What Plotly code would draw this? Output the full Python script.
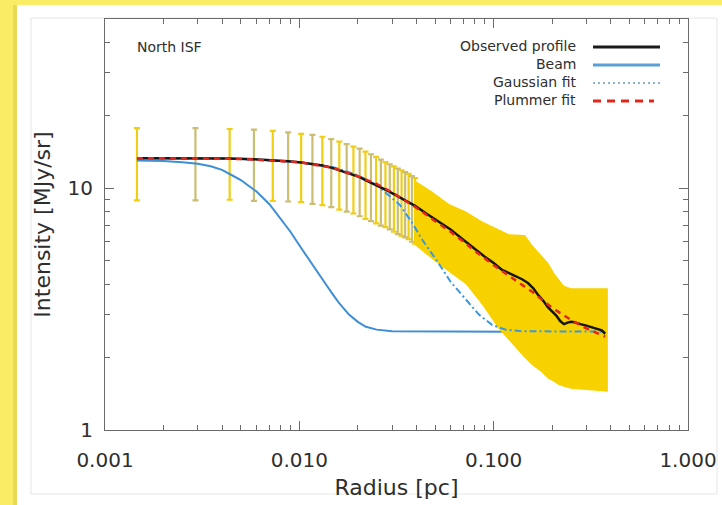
import plotly.graph_objects as go

# ---------------- data ----------------
obs_radius = [0.00146, 0.00292, 0.00438, 0.00584, 0.0073, 0.00876, 0.01022, 0.01168, 0.01314, 0.0146,
              0.01606, 0.01752, 0.01898, 0.02044, 0.0219, 0.02336, 0.02482, 0.02628, 0.02774, 0.0292,
              0.03066, 0.03212, 0.03358, 0.03504, 0.0365, 0.03796, 0.03942,
              0.045, 0.05, 0.055, 0.06, 0.07, 0.08, 0.09, 0.10, 0.11, 0.12,
              0.13, 0.14, 0.15, 0.16, 0.17, 0.18, 0.19, 0.20, 0.21, 0.22,
              0.23, 0.24, 0.25, 0.26, 0.27, 0.28, 0.30, 0.32, 0.34, 0.36, 0.375]
obs_intensity = [13.3, 13.3, 13.25, 13.15, 13.05, 12.9, 12.75, 12.6, 12.4, 12.15,
                 11.85, 11.6, 11.35, 11.1, 10.8, 10.55, 10.3, 10.05, 9.85, 9.65,
                 9.45, 9.25, 9.1, 8.95, 8.8, 8.6, 8.45,
                 7.85, 7.45, 7.1, 6.75, 6.1, 5.6, 5.2, 4.9, 4.6, 4.45,
                 4.33, 4.2, 4.05, 3.85, 3.6, 3.42, 3.22, 3.08, 2.97, 2.82,
                 2.74, 2.78, 2.8, 2.79, 2.76, 2.74, 2.70, 2.65, 2.61, 2.58, 2.5]

# individual error bars (first 27 profile points)
bar_error = [4.4, 4.4, 4.3, 4.3, 4.2, 4.1, 4.0, 4.0, 3.9, 3.8,
             3.7, 3.6, 3.5, 3.45, 3.35, 3.25, 3.15, 3.05, 2.95, 2.9,
             2.85, 2.8, 2.75, 2.7, 2.65, 2.6, 2.55]

# merged error band at larger radii
band_radius = [0.039, 0.048, 0.059, 0.072, 0.087, 0.106, 0.12, 0.145, 0.157, 0.175,
               0.191, 0.205, 0.215, 0.23, 0.25, 0.30, 0.387]
band_upper = [10.8, 9.7, 8.6, 8.0, 7.3, 6.75, 6.45, 6.4, 5.85, 5.3,
              4.9, 4.45, 4.23, 3.95, 3.85, 3.85, 3.85]
band_lower = [5.85, 5.1, 4.5, 4.0, 3.3, 2.62, 2.35, 1.98, 1.86, 1.74,
              1.63, 1.58, 1.54, 1.51, 1.48, 1.46, 1.44]

beam_radius = [0.00146, 0.002, 0.0025, 0.003, 0.0035, 0.004, 0.0045, 0.005, 0.0055, 0.006,
               0.007, 0.008, 0.009, 0.010, 0.011, 0.012, 0.013, 0.014, 0.015, 0.016,
               0.018, 0.020, 0.022, 0.025, 0.03, 0.05, 0.08, 0.12]
beam_intensity = [13.0, 12.95, 12.8, 12.6, 12.3, 11.9, 11.3, 10.8, 10.2, 9.7,
                  8.6, 7.5, 6.6, 5.8, 5.2, 4.7, 4.25, 3.9, 3.6, 3.35,
                  3.0, 2.8, 2.67, 2.6, 2.56, 2.55, 2.55, 2.55]

gauss_radius = [0.00146, 0.005, 0.01, 0.015, 0.02, 0.025, 0.029, 0.033, 0.038, 0.043,
                0.047, 0.052, 0.06, 0.066, 0.072, 0.084, 0.098, 0.115, 0.14, 0.2, 0.375]
gauss_intensity = [13.3, 13.2, 12.8, 12.2, 11.3, 10.3, 9.3, 8.5, 7.2, 6.1,
                   5.5, 4.9, 4.1, 3.75, 3.45, 3.0, 2.72, 2.6, 2.56, 2.55, 2.55]

plummer_radius = [0.00146, 0.005, 0.01, 0.015, 0.02, 0.025, 0.03, 0.035, 0.04, 0.05,
                  0.06, 0.07, 0.08, 0.1, 0.12, 0.14, 0.16, 0.18, 0.2, 0.25, 0.3, 0.375]
plummer_intensity = [13.3, 13.2, 12.8, 12.1, 11.2, 10.4, 9.6, 8.9, 8.3, 7.3,
                     6.6, 6.0, 5.5, 4.8, 4.35, 4.0, 3.7, 3.42, 3.2, 2.85, 2.63, 2.43]

x_tickvals = [0.001, 0.01, 0.1, 1.0]
x_ticktext = ["0.001", "0.010", "0.100", "1.000"]
x_minor = [0.002, 0.003, 0.004, 0.005, 0.006, 0.007, 0.008, 0.009,
           0.02, 0.03, 0.04, 0.05, 0.06, 0.07, 0.08, 0.09,
           0.2, 0.3, 0.4, 0.5, 0.6, 0.7, 0.8, 0.9]
y_tickvals = [1, 10]
y_ticktext = ["1", "10"]
y_minor = [2, 3, 4, 5, 6, 7, 8, 9, 20, 30, 40]

legend_labels = ["Observed profile", "Beam", "Gaussian fit", "Plummer fit"]
panel_label = "North ISF"

# ---------------- layout geometry ----------------
FW, FH = 722, 505
L, R, T, B = 105, 34, 19, 75
W = FW - L - R
H = FH - T - B


def px(x):
    return (x - L) / W


def py(y):
    return (FH - B - y) / H


FONT = "DejaVu Sans"
TXT = "#2e2e2e"
AX = "#6a6a6a"

fig = go.Figure()

# error bars, alternating tones as in the picture
odd_r = obs_radius[0:27:2]
odd_v = obs_intensity[0:27:2]
odd_e = bar_error[0:27:2]
even_r = obs_radius[1:27:2]
even_v = obs_intensity[1:27:2]
even_e = bar_error[1:27:2]
fig.add_trace(go.Scatter(x=odd_r, y=odd_v, mode="markers", marker=dict(size=1, opacity=0),
                         error_y=dict(type="data", array=odd_e, color="#F0CE14", thickness=2.2, width=3),
                         showlegend=False, hoverinfo="skip"))
fig.add_trace(go.Scatter(x=even_r, y=even_v, mode="markers", marker=dict(size=1, opacity=0),
                         error_y=dict(type="data", array=even_e, color="#CBBD74", thickness=2.2, width=3),
                         showlegend=False, hoverinfo="skip"))

# beam
fig.add_trace(go.Scatter(x=beam_radius, y=beam_intensity, mode="lines",
                         line=dict(color="#3E8ED5", width=2), showlegend=False))

# error band
fig.add_trace(go.Scatter(x=band_radius + band_radius[::-1], y=band_upper + band_lower[::-1],
                         mode="lines", fill="toself", fillcolor="#F8D200",
                         line=dict(width=0, color="#F8D200"), showlegend=False, hoverinfo="skip"))

# gaussian fit
fig.add_trace(go.Scatter(x=gauss_radius, y=gauss_intensity, mode="lines",
                         line=dict(color="#3A98DE", width=2, dash="7px,3px,2px,3px"), showlegend=False))
# observed profile
fig.add_trace(go.Scatter(x=obs_radius, y=obs_intensity, mode="lines",
                         line=dict(color="#151515", width=2.5), showlegend=False))
# plummer fit
fig.add_trace(go.Scatter(x=plummer_radius, y=plummer_intensity, mode="lines",
                         line=dict(color="#E3261B", width=2.5, dash="6px,5px"), showlegend=False))

shapes = []
# yellow surround + shadow
shapes.append(dict(type="rect", xref="paper", yref="paper", x0=px(0), x1=px(FW), y0=py(5), y1=py(0),
                   fillcolor="#FAEC64", line=dict(width=0), layer="below"))
shapes.append(dict(type="rect", xref="paper", yref="paper", x0=px(0), x1=px(17), y0=py(FH), y1=py(0),
                   fillcolor="#FAEC64", line=dict(width=0), layer="below"))
shapes.append(dict(type="rect", xref="paper", yref="paper", x0=px(13), x1=px(17), y0=py(FH), y1=py(5),
                   fillcolor="#E9D955", line=dict(width=0), layer="below"))
# faint inner frame
shapes.append(dict(type="rect", xref="paper", yref="paper", x0=px(31), x1=px(717), y0=py(494), y1=py(18),
                   fillcolor="rgba(0,0,0,0)", line=dict(width=1, color="#E6E6E6"), layer="below"))

# legend (text on the left, sample on the right, as in the picture)
rows_y = [46, 64, 82, 100]
text_right = 578
s0, s1 = 593, 660
annotations = []
for lab, yy in zip(legend_labels, rows_y):
    annotations.append(dict(x=px(text_right), y=py(yy), xref="paper", yref="paper", text=lab,
                            showarrow=False, xanchor="right", yanchor="middle",
                            font=dict(family=FONT, size=14, color=TXT)))
shapes.append(dict(type="line", xref="paper", yref="paper", x0=px(s0), x1=px(s1), y0=py(rows_y[0] + 1),
                   y1=py(rows_y[0] + 1), line=dict(color="#1a1a1a", width=3)))
shapes.append(dict(type="line", xref="paper", yref="paper", x0=px(s0), x1=px(s1), y0=py(rows_y[1] + 1),
                   y1=py(rows_y[1] + 1), line=dict(color="#5A9FD6", width=3)))
shapes.append(dict(type="line", xref="paper", yref="paper", x0=px(s0), x1=px(s1), y0=py(rows_y[2] + 1),
                   y1=py(rows_y[2] + 1), line=dict(color="#8FB3D3", width=2, dash="2px,3px")))
shapes.append(dict(type="line", xref="paper", yref="paper", x0=px(s0), x1=px(s1 - 6), y0=py(rows_y[3] + 1),
                   y1=py(rows_y[3] + 1), line=dict(color="#E3261B", width=3, dash="8px,6px")))

annotations.append(dict(x=px(135), y=py(47), xref="paper", yref="paper", text=panel_label,
                        showarrow=False, xanchor="left", yanchor="middle",
                        font=dict(family=FONT, size=14, color=TXT)))

fig.update_layout(
    width=FW, height=FH,
    margin=dict(l=L, r=R, t=T, b=B, pad=0),
    paper_bgcolor="white", plot_bgcolor="white",
    showlegend=False,
    shapes=shapes, annotations=annotations,
    font=dict(family=FONT, color=TXT),
)
fig.update_xaxes(
    type="log", range=[-3, 0], autorange=False,
    tickmode="array", tickvals=x_tickvals, ticktext=x_ticktext,
    ticks="inside", ticklen=9, tickwidth=1, tickcolor=AX,
    minor=dict(tickmode="array", tickvals=x_minor, ticks="inside", ticklen=5, tickwidth=1, tickcolor=AX),
    showline=True, linecolor=AX, linewidth=1, mirror="ticks",
    showgrid=False, zeroline=False,
    tickfont=dict(family=FONT, size=20, color=TXT), ticklabelstandoff=12,
    title=dict(text="Radius [pc]", font=dict(family=FONT, size=22, color=TXT), standoff=8),
    automargin=False,
)
fig.update_yaxes(
    type="log", range=[0, 1.699], autorange=False,
    tickmode="array", tickvals=y_tickvals, ticktext=y_ticktext,
    ticks="inside", ticklen=9, tickwidth=1, tickcolor=AX,
    minor=dict(tickmode="array", tickvals=y_minor, ticks="inside", ticklen=5, tickwidth=1, tickcolor=AX),
    showline=True, linecolor=AX, linewidth=1, mirror="ticks",
    showgrid=False, zeroline=False,
    tickfont=dict(family=FONT, size=20, color=TXT), ticklabelstandoff=7,
    title=dict(text="Intensity [MJy/sr]", font=dict(family=FONT, size=22, color=TXT), standoff=10),
    automargin=False,
)

fig.write_html("out.html", config={"displayModeBar": False},
               post_script="document.body.style.margin='0px';document.body.style.padding='0px';")
